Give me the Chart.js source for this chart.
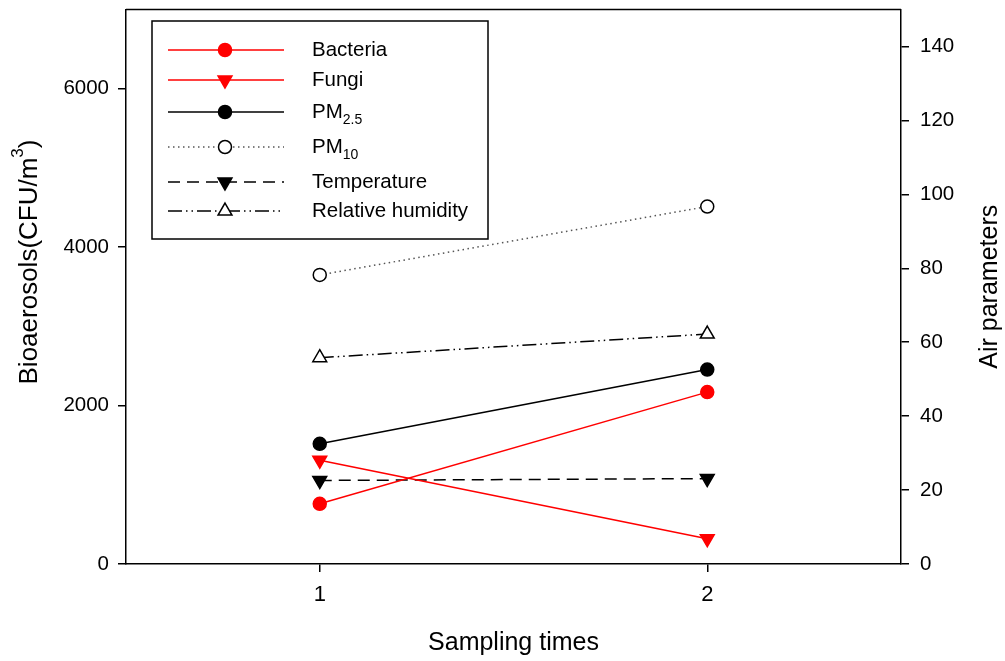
<!DOCTYPE html>
<html>
<head>
<meta charset="utf-8">
<script src="https://cdn.jsdelivr.net/npm/chart.js@4.4.1/dist/chart.umd.min.js"></script>
<style>
  html, body { margin: 0; padding: 0; background: #fff; }
  #wrap { width: 1005px; height: 661px; }
</style>
</head>
<body>
<div id="wrap"><canvas id="chart" width="1005" height="661"></canvas></div>
<script>
// ===== Data =====
const times = [1, 2];
const bacteria = [760, 2170];      // CFU/m3, left axis
const fungi = [1310, 320];         // CFU/m3, left axis
const pm25 = [32.5, 52.6];         // right axis
const pm10 = [78.2, 96.7];         // right axis
const temperature = [22.6, 23.1];  // right axis
const humidity = [55.8, 62.2];     // right axis

const xTicks = [1, 2];
const leftTicks = [0, 2000, 4000, 6000];
const rightTicks = [0, 20, 40, 60, 80, 100, 120, 140];

// legend text: main part + subscript part
const seriesNames = ['Bacteria', 'Fungi', 'PM', 'PM', 'Temperature', 'Relative humidity'];
const seriesSubs = ['', '', '2.5', '10', '', ''];

const FONT = "'Liberation Sans', Arial, sans-serif";

const toPoints = vals => vals.map((v, i) => ({ x: times[i], y: v }));

function series(label, vals, axis, color, dash, style, rot, radius, fill) {
  return {
    label: label,
    data: toPoints(vals),
    yAxisID: axis,
    borderColor: color,
    borderWidth: 1.5,
    borderDash: dash,
    pointStyle: style,
    rotation: rot,
    pointRadius: radius,
    pointHoverRadius: radius,
    pointBorderWidth: 1.5,
    pointBorderColor: color === '#555' ? '#000' : color,
    pointBackgroundColor: fill,
    tension: 0
  };
}

const datasets = [
  series('Bacteria', bacteria, 'y', '#ff0000', [], 'circle', 0, 6.5, '#ff0000'),
  series('Fungi', fungi, 'y', '#ff0000', [], 'triangle', 180, 8, '#ff0000'),
  series('PM2.5', pm25, 'y1', '#000', [], 'circle', 0, 6.5, '#000'),
  series('PM10', pm10, 'y1', '#555', [1.5, 3.5], 'circle', 0, 6.5, '#fff'),
  series('Temperature', temperature, 'y1', '#000', [12, 7], 'triangle', 180, 8, '#000'),
  series('Relative humidity', humidity, 'y1', '#000', [14, 4, 1.5, 4, 1.5, 4], 'triangle', 0, 8, '#fff')
];

// ===== Frame, axis titles and legend drawn on the canvas =====
const decorations = {
  id: 'decorations',
  afterDraw(chart) {
    const ctx = chart.ctx;
    const area = chart.chartArea;
    ctx.save();

    // top edge of the frame
    ctx.strokeStyle = '#000';
    ctx.lineWidth = 1.5;
    ctx.beginPath();
    ctx.moveTo(area.left, area.top);
    ctx.lineTo(area.right, area.top);
    ctx.stroke();

    ctx.fillStyle = '#000';
    const midY = (area.top + area.bottom) / 2;

    // left title with superscript
    ctx.save();
    ctx.translate(30, 262);
    ctx.rotate(-Math.PI / 2);
    ctx.textBaseline = 'middle';
    ctx.textAlign = 'left';
    const main = 'Bioaerosols(CFU/m';
    const sup = '3';
    ctx.font = '26px ' + FONT;
    const wMain = ctx.measureText(main).width;
    const wClose = ctx.measureText(')').width;
    ctx.font = '17px ' + FONT;
    const wSup = ctx.measureText(sup).width;
    const x0 = -(wMain + wSup + wClose) / 2;
    ctx.font = '26px ' + FONT;
    ctx.fillText(main, x0, 0);
    ctx.font = '17px ' + FONT;
    ctx.fillText(sup, x0 + wMain, -12);
    ctx.font = '26px ' + FONT;
    ctx.fillText(')', x0 + wMain + wSup, 0);
    ctx.restore();

    // right title
    ctx.save();
    ctx.translate(990, midY);
    ctx.rotate(-Math.PI / 2);
    ctx.textAlign = 'center';
    ctx.textBaseline = 'middle';
    ctx.font = '25px ' + FONT;
    ctx.fillText('Air parameters', 0, 0);
    ctx.restore();

    // bottom title
    ctx.textAlign = 'center';
    ctx.textBaseline = 'middle';
    ctx.font = '25px ' + FONT;
    ctx.fillText('Sampling times', (area.left + area.right) / 2, 643);

    // legend box
    const box = { left: 152, top: 21, right: 488, bottom: 239 };
    ctx.lineWidth = 1.5;
    ctx.strokeRect(box.left, box.top, box.right - box.left, box.bottom - box.top);
    const rowY = [50, 80, 112, 147, 182, 211];
    chart.data.datasets.forEach((ds, i) => {
      const y = rowY[i];
      ctx.save();
      ctx.strokeStyle = ds.borderColor;
      ctx.lineWidth = ds.borderWidth;
      ctx.setLineDash(ds.borderDash);
      ctx.beginPath();
      ctx.moveTo(168, y);
      ctx.lineTo(284, y);
      ctx.stroke();
      ctx.setLineDash([]);
      ctx.strokeStyle = ds.pointBorderColor;
      ctx.fillStyle = ds.pointBackgroundColor;
      Chart.helpers.drawPoint(ctx, {
        pointStyle: ds.pointStyle,
        rotation: ds.rotation,
        radius: ds.pointRadius,
        borderWidth: ds.pointBorderWidth
      }, 225, y);
      ctx.restore();

      ctx.fillStyle = '#000';
      ctx.textAlign = 'left';
      ctx.textBaseline = 'middle';
      ctx.font = '20.5px ' + FONT;
      ctx.fillText(seriesNames[i], 312, y);
      if (seriesSubs[i]) {
        const w = ctx.measureText(seriesNames[i]).width;
        ctx.font = '14px ' + FONT;
        ctx.fillText(seriesSubs[i], 312 + w, y + 8);
      }
    });
    ctx.restore();
  }
};

const axisGrid = {
  display: true,
  drawOnChartArea: false,
  drawTicks: true,
  tickLength: 8,
  color: '#000',
  lineWidth: 1.5
};

// keep the plot frame where the reference has it
const noPadY = s => { s.paddingTop = 0; s.paddingBottom = 0; };
const plain = v => String(v);

new Chart(document.getElementById('chart'), {
  type: 'line',
  data: { datasets: datasets },
  options: {
    responsive: false,
    animation: false,
    layout: { padding: { top: 6, left: 0, right: 0, bottom: 0 } },
    plugins: {
      legend: { display: false },
      tooltip: { enabled: false }
    },
    scales: {
      x: {
        type: 'linear',
        min: 0.5,
        max: 2.5,
        afterBuildTicks: s => { s.ticks = xTicks.map(v => ({ value: v })); },
        afterFit: s => { s.height = 97; s.paddingLeft = 0; s.paddingRight = 0; },
        grid: axisGrid,
        border: { display: true, color: '#000', width: 1.5 },
        ticks: { color: '#000', padding: 10, callback: plain, font: { family: FONT, size: 22 } }
      },
      y: {
        position: 'left',
        min: 0,
        max: 7000,
        afterBuildTicks: s => { s.ticks = leftTicks.map(v => ({ value: v })); },
        afterFit: s => { s.width = 126; noPadY(s); },
        grid: axisGrid,
        border: { display: true, color: '#000', width: 1.5 },
        ticks: { color: '#000', padding: 9, callback: plain, font: { family: FONT, size: 20.5 } }
      },
      y1: {
        position: 'right',
        min: 0,
        max: 150,
        afterBuildTicks: s => { s.ticks = rightTicks.map(v => ({ value: v })); },
        afterFit: s => { s.width = 104; noPadY(s); },
        grid: axisGrid,
        border: { display: true, color: '#000', width: 1.5 },
        ticks: { color: '#000', padding: 11, callback: plain, font: { family: FONT, size: 20.5 } }
      }
    }
  },
  plugins: [decorations]
});
</script>
</body>
</html>
